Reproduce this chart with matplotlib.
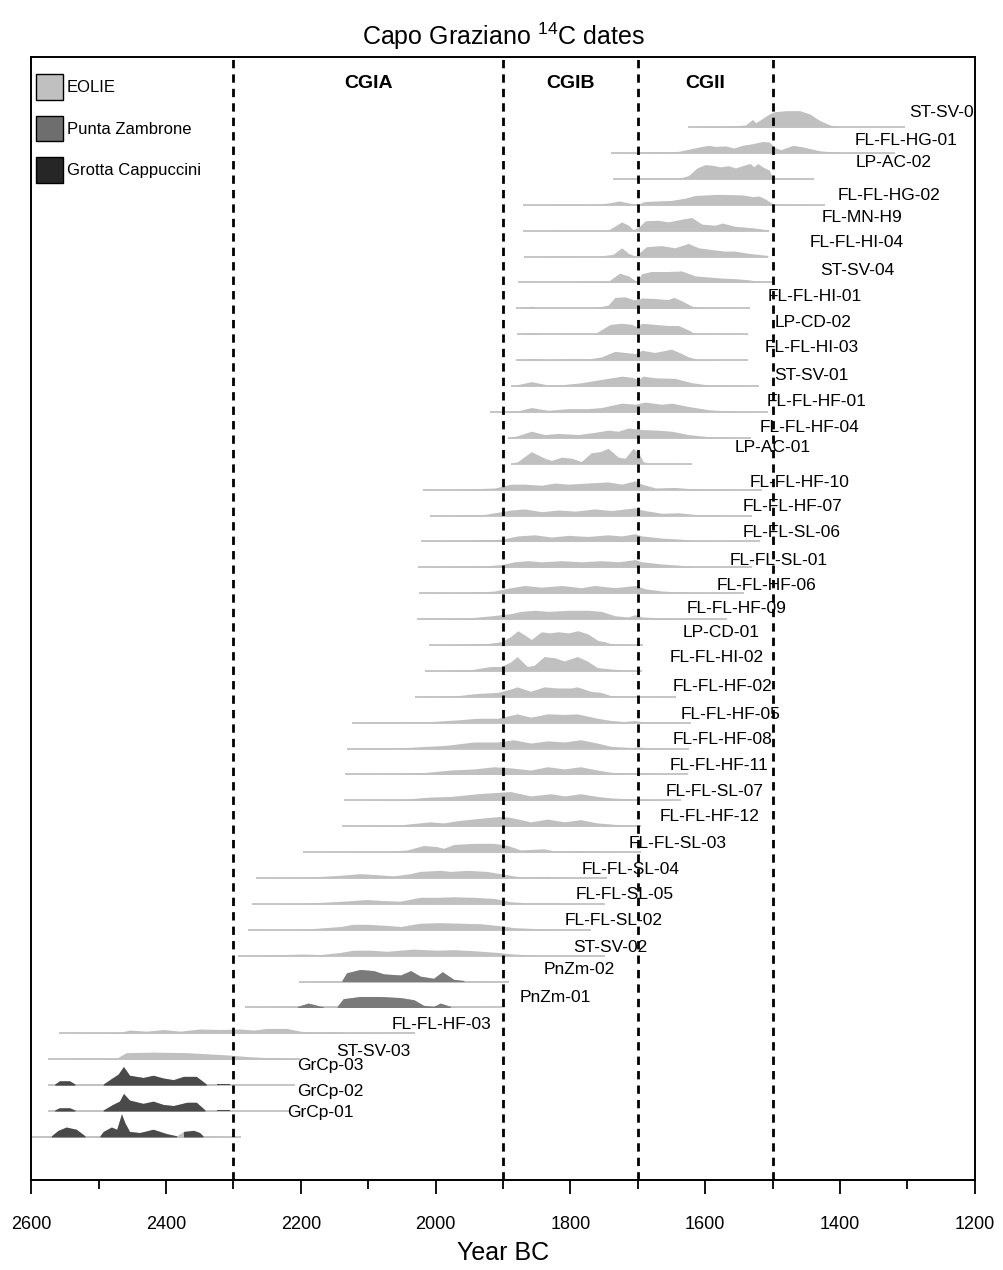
import matplotlib
matplotlib.use("Agg")
import matplotlib.pyplot as plt
from matplotlib.patches import Patch
import numpy as np

plt.rcParams['font.family'] = ['Liberation Sans', 'DejaVu Sans']
plt.rcParams['mathtext.fontset'] = 'custom'
plt.rcParams['mathtext.rm'] = 'Liberation Sans'
plt.rcParams['mathtext.default'] = 'regular'

# sample names, top to bottom
labels = ["ST-SV-05", "FL-FL-HG-01", "LP-AC-02", "FL-FL-HG-02", "FL-MN-H9",
	"FL-FL-HI-04", "ST-SV-04", "FL-FL-HI-01", "LP-CD-02", "FL-FL-HI-03",
	"ST-SV-01", "FL-FL-HF-01", "FL-FL-HF-04", "LP-AC-01", "FL-FL-HF-10",
	"FL-FL-HF-07", "FL-FL-SL-06", "FL-FL-SL-01", "FL-FL-HF-06", "FL-FL-HF-09",
	"LP-CD-01", "FL-FL-HI-02", "FL-FL-HF-02", "FL-FL-HF-05", "FL-FL-HF-08",
	"FL-FL-HF-11", "FL-FL-SL-07", "FL-FL-HF-12", "FL-FL-SL-03", "FL-FL-SL-04",
	"FL-FL-SL-05", "FL-FL-SL-02", "ST-SV-02", "PnZm-02", "PnZm-01",
	"FL-FL-HF-03", "ST-SV-03", "GrCp-03", "GrCp-02", "GrCp-01"]

sites = ["EOLIE"] * 33 + ["Punta Zambrone"] * 2 + ["EOLIE"] * 2 + ["Grotta Cappuccini"] * 3

# calibrated range of each date (years BC)
range_from = [1625, 1740, 1737, 1870, 1870, 1869, 1878, 1880, 1879, 1880,
	1888, 1920, 1893, 1888, 2019, 2009, 2021, 2026, 2024, 2027,
	2010, 2016, 2030, 2124, 2131, 2134, 2136, 2139, 2197, 2266,
	2273, 2279, 2293, 2202, 2283, 2559, 2575, 2575, 2575, 2600]
range_to = [1303, 1319, 1439, 1422, 1505, 1507, 1501, 1533, 1537, 1537,
	1520, 1507, 1532, 1620, 1516, 1531, 1519, 1531, 1543, 1568,
	1693, 1694, 1643, 1621, 1624, 1626, 1636, 1695, 1696, 1745,
	1748, 1770, 1748, 1891, 1901, 2030, 2201, 2208, 2218, 2288]

# probability curves: (year BC, relative density)
curves = [
	[(1625,0),(1600,0.5),(1560,1),(1540,2),(1530,7),(1525,4),(1515,8),(1505,12),(1497,14),(1480,15),(1460,15),(1445,12),(1430,6),(1415,2),(1400,0)],
	[(1740,0),(1700,0.5),(1640,1.5),(1620,4),(1605,6),(1595,7),(1585,6),(1570,6.5),(1558,4.5),(1545,7),(1530,8.5),(1515,10.5),(1505,10),(1497,5),(1488,3),(1470,7),(1455,5.5),(1430,2),(1400,0.5),(1319,0)],
	[(1737,0),(1640,0.5),(1625,3),(1612,10),(1600,13),(1590,12.5),(1578,11),(1566,12),(1555,10),(1540,13),(1533,14),(1528,11),(1522,14),(1515,11),(1505,8),(1500,1),(1480,0.5),(1439,0)],
	[(1870,0),(1760,0.3),(1740,2),(1728,3.5),(1712,1.5),(1700,0.5),(1690,3),(1650,4),(1630,6),(1615,8.5),(1580,9.5),(1545,9),(1530,7.5),(1520,8),(1510,5),(1500,1),(1480,0.3),(1422,0)],
	[(1870,0),(1760,0.3),(1744,0.5),(1724,8),(1714,5),(1707,1),(1699,3),(1689,9),(1670,9.5),(1655,8),(1635,10.5),(1620,12),(1605,6),(1585,5),(1575,7),(1556,4),(1536,3),(1521,2),(1505,0.5)],
	[(1869,0),(1760,0.3),(1737,2),(1724,8),(1714,3),(1704,0.5),(1697,4),(1687,9),(1665,10),(1645,8),(1625,12),(1610,8),(1585,6),(1571,5),(1556,5),(1536,3),(1507,1)],
	[(1878,0),(1760,0.5),(1744,1),(1727,8.5),(1714,6),(1702,1),(1694,8),(1680,10),(1655,10),(1635,10.5),(1615,6),(1595,5),(1575,4),(1556,3.5),(1536,2.5),(1521,1),(1501,0)],
	[(1880,0),(1858,2),(1848,0.3),(1764,0.5),(1744,3),(1734,10),(1719,10.5),(1707,8),(1699,8),(1694,9.5),(1675,9),(1655,8),(1647,10),(1635,7),(1623,3),(1615,1),(1585,0.3),(1533,0)],
	[(1879,0),(1858,1.5),(1843,0.3),(1764,0.5),(1741,9),(1724,10),(1709,9),(1702,7),(1694,10),(1675,9),(1655,8),(1640,8),(1625,4),(1615,0.5),(1537,0)],
	[(1880,0),(1858,1.5),(1833,0.5),(1769,1.5),(1754,3),(1734,8),(1719,7),(1704,6),(1694,9),(1675,7),(1650,10),(1635,6),(1625,3),(1610,0.5),(1537,0)],
	[(1888,0),(1858,4),(1833,1),(1808,1.5),(1784,3),(1764,5),(1744,7),(1724,9),(1709,8),(1699,6),(1692,9),(1675,7.5),(1645,7),(1620,3),(1595,1),(1520,0)],
	[(1920,0),(1878,1),(1858,4),(1833,1.5),(1803,3),(1774,3),(1754,4),(1724,8),(1704,7),(1689,9),(1665,7),(1650,8),(1625,5),(1595,2),(1556,0.5),(1507,0)],
	[(1893,0),(1878,2),(1858,6),(1838,3),(1818,4),(1788,3),(1764,5),(1744,7),(1729,6),(1714,9),(1694,7.5),(1670,7),(1650,6),(1625,3),(1595,1),(1532,0)],
	[(1888,0),(1878,2),(1858,11),(1838,5),(1828,3),(1813,6),(1798,5),(1784,2),(1769,10),(1756,11),(1744,14),(1729,6),(1719,5),(1707,14),(1699,10),(1692,2),(1685,0.5),(1620,0)],
	[(2019,0),(1952,0.5),(1912,1.5),(1888,5),(1868,5),(1843,4),(1823,6),(1803,5),(1774,6),(1744,7),(1724,5),(1704,8),(1694,5),(1674,1.5),(1645,2),(1625,1),(1516,0)],
	[(2009,0),(1927,1),(1888,5),(1868,6),(1843,3.5),(1818,5),(1793,4),(1764,6),(1739,4.5),(1704,7),(1694,5),(1664,2),(1640,2.5),(1615,1),(1531,0)],
	[(2021,0),(1927,1.5),(1902,2),(1878,5),(1853,6),(1828,4),(1803,5.5),(1774,4.5),(1744,6),(1724,5),(1704,7),(1694,5),(1664,3),(1635,2),(1615,0.5),(1519,0)],
	[(2026,0),(1932,1),(1902,2.5),(1883,5),(1863,6),(1843,5),(1813,6),(1784,5),(1754,6),(1729,5),(1704,7),(1694,5),(1664,3),(1640,2),(1615,0.5),(1531,0)],
	[(2024,0),(1937,1),(1912,2),(1888,5),(1868,7),(1843,5.5),(1813,7),(1784,5),(1764,7),(1734,5),(1704,7),(1689,4),(1664,2),(1635,1),(1543,0)],
	[(2027,0),(1952,1),(1917,3),(1888,5),(1873,7),(1853,8),(1833,7),(1803,8),(1774,8),(1754,7),(1734,3),(1714,2),(1704,4),(1694,2),(1664,1),(1568,0)],
	[(2010,0),(1927,1),(1902,3),(1888,8),(1878,13),(1865,8),(1858,5),(1843,12),(1831,11),(1818,12),(1803,11),(1789,13),(1774,10),(1759,4),(1749,3),(1739,1),(1693,0)],
	[(2016,0),(1948,1),(1918,4),(1903,4),(1889,8),(1879,13),(1864,4),(1854,5),(1839,13),(1824,12),(1809,9),(1790,13),(1775,9),(1760,3),(1745,2),(1725,1),(1694,0)],
	[(2030,0),(1968,1),(1938,3),(1908,4),(1889,7),(1879,9),(1859,5),(1839,9),(1819,8),(1799,8),(1790,9),(1770,5),(1755,4),(1740,1),(1643,0)],
	[(2124,0),(2057,0.5),(2008,1),(1968,2.5),(1938,4),(1908,4),(1879,8),(1859,5),(1834,8),(1809,7.5),(1790,8),(1760,4),(1740,2),(1720,1),(1705,2),(1690,0.5),(1621,0)],
	[(2131,0),(2057,0.5),(2012,2),(1983,3),(1943,6),(1908,6),(1884,8),(1859,5),(1834,7),(1809,6),(1785,8),(1760,5),(1740,2),(1710,1),(1700,1.5),(1680,0.3),(1624,0)],
	[(2134,0),(2057,0.5),(2012,2),(1978,4),(1943,5),(1913,7),(1889,6),(1859,4),(1834,7),(1809,5),(1785,7),(1760,4),(1740,2),(1710,1),(1700,1.5),(1680,0.3),(1626,0)],
	[(2136,0),(2057,0.5),(2008,3),(1978,3.5),(1938,6),(1913,7),(1889,8),(1859,4),(1829,6),(1809,4),(1785,6),(1760,3.5),(1735,2),(1695,1),(1636,0)],
	[(2139,0),(2057,1),(2008,4),(1988,3),(1968,5),(1938,7),(1903,9),(1889,8),(1859,4),(1834,6.5),(1809,4),(1785,6),(1760,3),(1740,2),(1695,0)],
	[(2197,0),(2072,0.5),(2042,2),(2018,6),(1998,5),(1988,3.5),(1973,7),(1943,8),(1913,8),(1893,6),(1874,2),(1839,3),(1824,1),(1785,1.5),(1760,0.5),(1696,0)],
	[(2266,0),(2196,0.5),(2141,2.5),(2112,4),(2087,3),(2062,2),(2037,4),(2023,6),(1993,7),(1978,6),(1953,7),(1924,6),(1894,3),(1874,1),(1834,1.5),(1800,0.3),(1745,0)],
	[(2273,0),(2196,0.5),(2137,2.5),(2102,4),(2077,3),(2052,2.5),(2023,6),(1998,6),(1973,6.5),(1943,6),(1913,5),(1889,2),(1864,1),(1829,1),(1800,0.3),(1748,0)],
	[(2279,0),(2196,0.5),(2141,3),(2122,5),(2102,5),(2072,4),(2052,3),(2023,6),(1993,6.5),(1963,6),(1933,5.5),(1909,4),(1884,2),(1849,1),(1810,0.3),(1770,0)],
	[(2293,0),(2196,1.5),(2171,1),(2141,3),(2122,5),(2097,5),(2072,4),(2033,6),(1998,5),(1973,5.5),(1943,4.5),(1909,3),(1884,1.5),(1850,0.5),(1748,0)],
	[(2202,0),(2160,1),(2139,1),(2132,8),(2112,11),(2092,10),(2077,7),(2052,6),(2037,10),(2023,5),(2003,3),(1990,9),(1973,2),(1958,1),(1920,0.5),(1891,0)],
	[(2283,0),(2205,1),(2189,4),(2176,2),(2166,0.5),(2146,1),(2137,8),(2112,10),(2082,10),(2052,9),(2032,7),(2018,2),(2003,1),(1993,4),(1978,1),(1965,0.5),(1901,0)],
	[(2559,0),(2500,0.5),(2468,1),(2454,3),(2429,2),(2404,3.5),(2379,2),(2350,4),(2320,3.5),(2290,4),(2270,3),(2250,4.5),(2221,4.5),(2201,2),(2181,1),(2156,1.5),(2130,0.5),(2030,0)],
	[(2575,0),(2500,0.3),(2473,1),(2459,6),(2419,6.5),(2369,6),(2340,5),(2310,4),(2280,2.5),(2250,1.5),(2231,1.5),(2201,0)],
	[(2575,0),(2565,1),(2558,4),(2543,4),(2535,1),(2493,1),(2481,6),(2471,10),(2463,17),(2454,9),(2434,7),(2419,9),(2404,6.5),(2389,5),(2374,8),(2355,8),(2340,1),(2325,1),(2305,1),(2300,0),(2208,0)],
	[(2575,0),(2565,1),(2558,3),(2543,3),(2535,1),(2493,1),(2479,6),(2469,9),(2463,16),(2454,10),(2434,7),(2419,9),(2404,6),(2389,5),(2369,8),(2355,8),(2342,1),(2325,1),(2305,1),(2300,0),(2218,0)],
	[(2600,0),(2570,1),(2560,6),(2548,9),(2533,7),(2520,1),(2498,1),(2493,5),(2481,9),(2473,7),(2466,21),(2461,13),(2454,5),(2439,4),(2419,7),(2399,3),(2384,1),(2374,5),(2359,6),(2350,4),(2345,1),(2288,0)],
]

# highest density ranges drawn in the site colour (non-EOLIE rows)
hpd_ranges = {
	"PnZm-02": [(2139, 1958)],
	"PnZm-01": [(2205, 2166), (2146, 1978)],
	"GrCp-03": [(2565, 2535), (2493, 2340), (2325, 2305)],
	"GrCp-02": [(2565, 2535), (2493, 2342), (2325, 2305)],
	"GrCp-01": [(2570, 2520), (2498, 2384), (2374, 2345)],
}

phase_bounds = [2300, 1900, 1700, 1500]
phase_names = ["CGIA", "CGIB", "CGII"]

# where the names are written (year of left edge, lift above baseline in px)
label_x = [1297, 1378, 1377, 1404, 1427, 1445, 1430, 1508, 1497, 1512,
	1497, 1509, 1520, 1557, 1534, 1545, 1545, 1564, 1583, 1627,
	1634, 1653, 1649, 1636, 1649, 1653, 1659, 1667, 1713, 1783,
	1793, 1809, 1796, 1839, 1875, 2065, 2147, 2205, 2205, 2220]
label_lift = [15, 13, 16, 9, 13, 14, 12, 12, 12, 13,
	11, 10, 10, 16, 7, 9, 9, 7, 8, 11,
	12, 13, 10, 8, 9, 9, 9, 10, 9, 9,
	9, 9, 8, 12, 10, 9, 8, 20, 20, 24]

site_colors = {"EOLIE": "#c0c0c0", "Punta Zambrone": "#6e6e6e", "Grotta Cappuccini": "#262626"}
fill_colors = {"EOLIE": "#c0c0c0", "Punta Zambrone": "#7a7a7a", "Grotta Cappuccini": "#4a4a4a"}
ROW_PX = 25.9
SCALE = 1.1 / ROW_PX


def draw_row(ax, i):
	base = -i
	yrs = np.array([p[0] for p in curves[i]], dtype=float)
	dens = np.array([p[1] for p in curves[i]], dtype=float)
	ax.plot([range_from[i], range_to[i]], [base, base], color="#c6c6c6", lw=1.4,
		solid_capstyle="butt", zorder=2)
	ax.fill_between(yrs, base, base + dens * SCALE, color="#c0c0c0", lw=0, zorder=3)
	for lo, hi in hpd_ranges.get(labels[i], []):
		mask = (yrs <= lo) & (yrs >= hi)
		ax.fill_between(yrs, base, base + dens * SCALE, where=mask,
			color=fill_colors[sites[i]], lw=0, zorder=4)
	ax.text(label_x[i], base + label_lift[i] / ROW_PX, labels[i], fontsize=12.5,
		ha="left", va="center", clip_on=True, zorder=6)


def plot_dates():
	fig = plt.figure(figsize=(10.04, 12.70), dpi=100)
	ax = fig.add_axes([0.031, 0.071, 0.94, 0.884])

	for i in range(len(labels)):
		draw_row(ax, i)

	for b in phase_bounds:
		ax.axvline(b, color="black", lw=2.0, dashes=(3.0, 2.2), zorder=5)
	for k, name in enumerate(phase_names):
		mid = (phase_bounds[k] + phase_bounds[k + 1]) / 2.0
		ax.text(mid, 44 / ROW_PX, name, fontsize=14, fontweight="bold",
			ha="center", va="center")

	ax.set_xlim(2600, 1200)
	ax.set_ylim(-(1180 - 127) / ROW_PX, (127 - 57) / ROW_PX)
	ax.set_yticks([])
	ax.set_xticks(np.arange(2600, 1199, -200))
	ax.set_xticks(np.arange(2500, 1200, -200), minor=True)
	ax.tick_params(axis="x", which="major", direction="out", length=10, width=1.3,
		pad=16, labelsize=13)
	ax.tick_params(axis="x", which="minor", direction="out", length=6.5, width=1.3)
	for s in ax.spines.values():
		s.set_linewidth(1.4)
	ax.set_xlabel("Year BC", fontsize=18, labelpad=6)
	ax.set_title("Capo Graziano $^{14}$C dates", fontsize=18, pad=9)

	handles = [Patch(facecolor=site_colors[s], edgecolor="black", lw=1.0)
		for s in ["EOLIE", "Punta Zambrone", "Grotta Cappuccini"]]
	ax.legend(handles, ["EOLIE", "Punta Zambrone", "Grotta Cappuccini"],
		loc="upper left", bbox_to_anchor=(0.005, 0.985), borderaxespad=0,
		borderpad=0, frameon=False, fontsize=12, handlelength=1.62,
		handleheight=2.0, handletextpad=0.25, labelspacing=0.95)

	fig.savefig("out.png", dpi=100)


if __name__ == "__main__":
	plot_dates()
